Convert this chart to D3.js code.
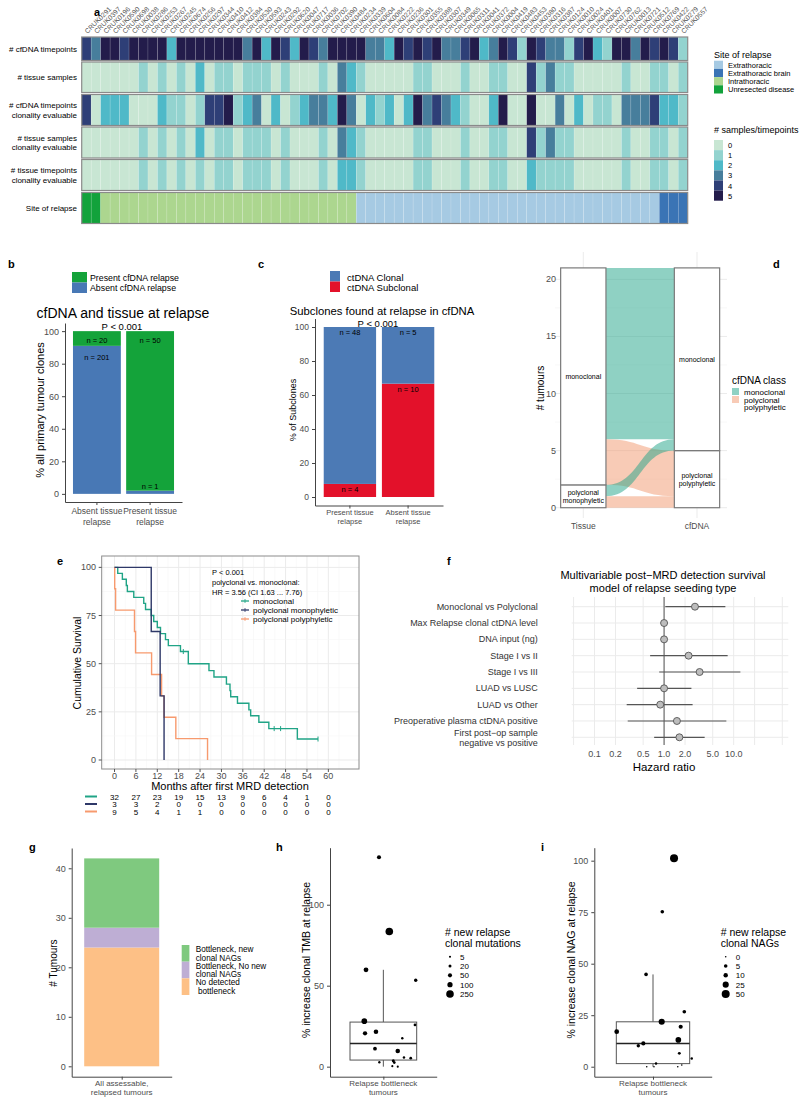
<!DOCTYPE html>
<html><head><meta charset="utf-8">
<script src="https://cdn.jsdelivr.net/npm/d3@7"></script>
<style>body{margin:0;background:#fff}svg{display:block}</style>
</head><body><svg id="c" width="800" height="1102"></svg>
<script>
// ================= DATA =================
// ---- panel a
const patients = ["CRUK0291","CRUK0397","CRUK0196","CRUK0590","CRUK0698","CRUK0038","CRUK0286","CRUK0253","CRUK0267","CRUK0245","CRUK0674","CRUK0256","CRUK0297","CRUK0344","CRUK0410","CRUK0412","CRUK0384","CRUK0530","CRUK0593","CRUK0243","CRUK0292","CRUK0620","CRUK0047","CRUK0717","CRUK0036","CRUK0702","CRUK0390","CRUK0484","CRUK0234","CRUK0339","CRUK0604","CRUK0084","CRUK0222","CRUK0236","CRUK0301","CRUK0355","CRUK0388","CRUK0307","CRUK0349","CRUK0065","CRUK0311","CRUK0041","CRUK0372","CRUK0004","CRUK0419","CRUK0483","CRUK0453","CRUK0380","CRUK0316","CRUK0387","CRUK0124","CRUK0010","CRUK0024","CRUK0401","CRUK0007","CRUK0730","CRUK0762","CRUK0013","CRUK0721","CRUK0512","CRUK0769","CRUK0422","CRUK0279","CRUK0557"];
const siteLevels = ["Extrathoracic","Extrathoracic brain","Intrathoracic","Unresected disease"];
const siteOfRelapse = [].concat(
  Array(2).fill("Unresected disease"), Array(27).fill("Intrathoracic"),
  Array(32).fill("Extrathoracic"), Array(3).fill("Extrathoracic brain"));
const cfdnaTimepoints = [4,3,5,5,4,5,5,5,5,2,5,5,5,5,5,5,5,3,5,2,5,4,2,5,4,3,5,5,5,5,3,3,2,5,4,5,4,5,3,3,4,5,2,3,5,4,1,5,4,3,3,1,4,5,2,1,5,5,3,5,4,5,4,1];
const tissueSamples = [0,0,0,0,0,0,1,0,1,0,1,0,2,0,1,1,0,1,1,1,0,1,0,0,0,1,0,3,2,1,0,0,0,0,0,1,1,0,0,0,1,0,0,1,1,0,0,4,1,3,1,1,0,0,0,0,0,1,0,0,1,1,0,1];
const cfdnaClonalEval = [4,0,2,2,2,0,0,0,2,1,1,0,1,4,4,5,1,2,3,0,2,0,1,2,3,3,2,5,3,0,2,1,2,0,2,5,3,4,3,2,1,0,0,2,5,0,0,5,0,0,3,0,2,0,1,1,0,3,3,3,4,2,2,1];
const tissueSamplesClonalEval = [0,0,0,0,0,0,1,0,1,0,1,0,2,0,1,1,0,1,1,1,0,1,0,0,0,1,0,3,2,1,0,0,0,0,0,1,1,0,0,0,1,0,0,1,1,0,0,4,1,3,1,1,0,0,0,0,0,1,0,0,1,1,0,1];
const tissueTimepointsClonalEval = [0,0,0,0,0,0,1,0,1,0,1,0,1,0,1,1,0,1,1,1,0,1,0,0,0,1,0,2,2,1,0,0,0,0,0,1,1,0,0,0,1,0,0,1,1,0,0,2,1,1,1,1,0,0,0,0,0,1,0,0,1,1,0,1];
const sampleLevels = [0,1,2,3,4,5];

// ---- panel b
const bCats = ["Absent tissue relapse","Present tissue relapse"];
const bPresentCfDNA = [20, 50];
const bAbsentCfDNA = [201, 1];
// ---- panel c
const cCats = ["Present tissue relapse","Absent tissue relapse"];
const cClonal = [48, 5];
const cSubclonal = [4, 10];
// ---- panel d
const dAxes = ["Tissue","cfDNA"];
const dTissueStrata = ["polyclonal monophyletic","monoclonal"];
const dCfdnaStrata = ["polyclonal polyphyletic","monoclonal"];
const dFlowFrom = ["monoclonal","monoclonal","polyclonal monophyletic","polyclonal monophyletic"];
const dFlowTo = ["monoclonal","polyclonal polyphyletic","monoclonal","polyclonal polyphyletic"];
const dFlowN = [15, 4, 1, 1];
// ---- panel e
const kmMonoTime = [0,0.9,2.2,3.3,3.6,5.4,8.2,8.7,10.3,11.0,12.0,12.9,14.3,15.1,18.5,20.7,26.5,27.9,31.4,32.4,32.6,34.5,37.7,38.2,40.5,43.3,51.3,57.1];
const kmMonoSurv = [100,96.9,93.8,90.6,87.5,84.4,81.3,78.1,75.0,71.9,68.8,65.6,62.5,59.4,56.3,50.0,46.4,43.1,39.4,36.0,32.8,29.5,26.0,23.0,19.6,16.3,10.9,10.9];
const kmMonoCensor = [19.3, 44.8, 46.6, 57.1];
const kmPolyMonoTime = [0,10.3,12.8,13.9];
const kmPolyMonoSurv = [100,66.7,33.3,0];
const kmPolyPolyTime = [0,0.05,0.3,5.6,5.9,10.4,13.2,13.9,17.2,26.1];
const kmPolyPolySurv = [100,88.9,77.8,66.7,55.6,44.4,33.3,22.2,11.1,0];
const riskTimes = [0,6,12,18,24,30,36,42,48,54,60];
const riskMono = [32,27,23,19,15,13,9,6,4,1,0];
const riskPolyMono = [3,3,2,0,0,0,0,0,0,0,0];
const riskPolyPoly = [9,5,4,1,1,0,0,0,0,0,0];
const kmXTicks = [0,6,12,18,24,30,36,42,48,54,60];
const kmYTicks = [0,25,50,75,100];
// ---- panel f
const fLabels = ["Monoclonal vs Polyclonal","Max Relapse clonal ctDNA level","DNA input (ng)","Stage I vs II","Stage I vs III","LUAD vs LUSC","LUAD vs Other","Preoperative plasma ctDNA positive","First post\u2212op sample\nnegative vs positive"];
const fHR = [2.78,1.0,1.0,2.25,3.24,1.0,0.88,1.53,1.66];
const fLo = [1.04,0.98,0.98,0.63,0.85,0.41,0.29,0.30,0.72];
const fHi = [7.6,1.02,1.02,8.2,12.5,2.47,2.57,7.85,3.83];
const fTicks = [0.1,0.2,0.5,1.0,2.0,5.0,10.0];
// ---- panel g
const gCats = ["No detected\n bottleneck","Bottleneck, No new\nclonal NAGs","Bottleneck, new\nclonal NAGs"];
const gCounts = [24, 4, 14];
// ---- panel h
const hX = [0.951,1.067,0.805,1.364,0.786,0.794,0.917,1.356,1.213,0.906,1.162,1.112,1.123,1.232,1.308,0.955,1.101,1.162];
const hY = [129.3,83.5,59.8,53.4,28.1,20.6,21.6,25.8,17.5,11.1,9.7,3.7,2.5,5.6,5.2,2.7,0.3,0];
const hNew = [50,250,80,30,120,60,70,15,10,40,70,20,15,10,15,8,5,5];
const hLegend = [5,20,50,100,250];
// ---- panel i
const iX = [1.215,1.095,0.929,1.320,1.089,1.283,0.629,1.259,0.901,0.850,1.269,1.396,1.031,0.936,1.010,1.253,1.294];
const iY = [101.2,75.2,44.8,26.7,21.8,19.4,17,13,11.3,10.2,6.5,4,1.5,0,0,0,0.8];
const iNew = [50,5,5,5,25,8,12,20,8,4,2,1,1,0,0,0,0];
const iLegend = [0,5,10,25,50];

// ================= DRAWING =================
const F = '"Liberation Sans", Arial, Helvetica, sans-serif';
const svg = d3.select("#c").style("font-family", F);
svg.append("rect").attr("width",800).attr("height",1102).attr("fill","#fff");
const GREY = "#4d4d4d";

function txt(g, x, y, s, o = {}) {
  const lines = String(s).split("\n");
  const lh = o.lh || (o.size || 10) * 1.1;
  const t = g.append("text").attr("x", x).attr("y", y)
    .attr("font-size", o.size || 10).attr("fill", o.fill || "#000")
    .attr("text-anchor", o.anchor || "start")
    .attr("dominant-baseline", o.base || "central");
  if (o.bold) t.attr("font-weight", "bold");
  if (o.rotate != null) t.attr("transform", `rotate(${o.rotate},${x},${y})`);
  const off = o.vcenter === false ? 0 : -(lines.length - 1) * lh / 2;
  lines.forEach((l, i) => t.append("tspan").attr("x", x).attr("y", y + off + i * lh).text(l));
  return t;
}
function styleAxis(g, size) {
  g.selectAll("text").attr("fill", GREY).attr("font-size", size).attr("font-family", F);
  g.selectAll("line").attr("stroke", "#444");
  g.select(".domain").attr("stroke", "#444");
}

// ---------- Panel a ----------
{
  const g = svg.append("g");
  txt(g, 94, 12, "a", {size: 11, bold: true});
  const x = d3.scaleBand().domain(patients).range([81.7, 687.7]);
  const sampleColor = d3.scaleOrdinal().domain(sampleLevels)
    .range(["#c8e6d3","#93d3cf","#4fb9c8","#477e9c","#2e3f77","#231c4b"]);
  const siteColor = d3.scaleOrdinal().domain(siteLevels)
    .range(["#a6cae3","#3a74b5","#acd68f","#12a23b"]);
  const rows = [
    {lab: "# cfDNA timepoints", vals: cfdnaTimepoints, col: sampleColor},
    {lab: "# tissue samples", vals: tissueSamples, col: sampleColor},
    {lab: "# cfDNA timepoints\nclonality evaluable", vals: cfdnaClonalEval, col: sampleColor},
    {lab: "# tissue samples\nclonality evaluable", vals: tissueSamplesClonalEval, col: sampleColor},
    {lab: "# tissue timepoints\nclonality evaluable", vals: tissueTimepointsClonalEval, col: sampleColor},
    {lab: "Site of relapse", vals: siteOfRelapse, col: siteColor}
  ];
  const tops = [37, 62, 94.5, 127, 159.5, 192.5];
  const hs = [23.5, 30.5, 31, 31, 31, 31];
  rows.forEach((r, ri) => {
    g.selectAll(null).data(r.vals).enter().append("rect")
      .attr("x", (d, i) => x(patients[i])).attr("y", tops[ri])
      .attr("width", x.bandwidth()).attr("height", hs[ri])
      .attr("fill", d => r.col(d))
      .attr("stroke", "#fff").attr("stroke-opacity", 0.25).attr("stroke-width", 0.5);
    g.append("rect").attr("x", x.range()[0]).attr("y", tops[ri])
      .attr("width", x.range()[1] - x.range()[0]).attr("height", hs[ri])
      .attr("fill", "none").attr("stroke", "#8a8a8a").attr("stroke-width", 1.2);
    txt(g, 77, tops[ri] + hs[ri] / 2, r.lab, {size: 8, anchor: "end", lh: 9.5});
  });
  // column labels
  patients.forEach(p => {
    const cx = x(p) + x.bandwidth() / 2 + 1, cy = 34;
    g.append("text").attr("x", cx).attr("y", cy).text(p)
      .attr("font-size", 6.8).attr("fill", "#555")
      .attr("transform", `rotate(-45,${cx},${cy})`);
  });
  // legends
  txt(g, 714, 55, "Site of relapse", {size: 9});
  const ly = d3.scaleBand().domain(siteLevels).range([60.7, 93.5]);
  siteLevels.forEach(s => {
    g.append("rect").attr("x", 714).attr("y", ly(s)).attr("width", 9).attr("height", ly.bandwidth())
      .attr("fill", siteColor(s));
    txt(g, 728, ly(s) + ly.bandwidth() / 2, s, {size: 7.5});
  });
  txt(g, 714, 130, "# samples/timepoints", {size: 9});
  const ly2 = d3.scaleBand().domain(sampleLevels).range([140, 200.7]);
  sampleLevels.forEach(s => {
    g.append("rect").attr("x", 714).attr("y", ly2(s)).attr("width", 9).attr("height", ly2.bandwidth())
      .attr("fill", sampleColor(s));
    txt(g, 728, ly2(s) + ly2.bandwidth() / 2, s, {size: 7.5});
  });
}

// ---------- Panel b ----------
{
  const g = svg.append("g");
  txt(g, 8, 264, "b", {size: 11, bold: true});
  const green = "#14a33a", blue = "#4878b5";
  g.append("rect").attr("x", 72).attr("y", 272).attr("width", 15).attr("height", 10.5).attr("fill", green);
  g.append("rect").attr("x", 72).attr("y", 282.5).attr("width", 15).attr("height", 10.5).attr("fill", blue);
  txt(g, 90, 277.5, "Present cfDNA relapse", {size: 8.8});
  txt(g, 90, 288, "Absent cfDNA relapse", {size: 8.8});
  txt(g, 123, 313, "cfDNA and tissue at relapse", {size: 14, anchor: "middle"});
  txt(g, 122, 326, "P < 0.001", {size: 9.5, anchor: "middle"});
  const x = d3.scaleBand().domain(bCats).range([65, 182]).paddingInner(0.1).paddingOuter(0.15);
  const y = d3.scaleLinear().domain([-5, 105]).range([502, 323]);
  bCats.forEach((c, i) => {
    const tot = bPresentCfDNA[i] + bAbsentCfDNA[i];
    const pAbs = bAbsentCfDNA[i] / tot * 100;
    g.append("rect").attr("x", x(c)).attr("width", x.bandwidth()).attr("y", y(pAbs)).attr("height", y(0) - y(pAbs)).attr("fill", blue);
    g.append("rect").attr("x", x(c)).attr("width", x.bandwidth()).attr("y", y(100)).attr("height", y(pAbs) - y(100)).attr("fill", green);
    const cx = x(c) + x.bandwidth() / 2;
    txt(g, cx, y(100) + 9, "n = " + bPresentCfDNA[i], {size: 7.5, anchor: "middle"});
    txt(g, cx, i === 1 ? y(pAbs) - 5 : y(pAbs) + 11, "n = " + bAbsentCfDNA[i], {size: 7.5, anchor: "middle"});
  });
  const ya = g.append("g").attr("transform", "translate(65,0)")
    .call(d3.axisLeft(y).tickValues([0, 20, 40, 60, 80, 100]).tickSize(3).tickSizeOuter(0));
  styleAxis(ya, 9);
  const xa = g.append("g").attr("transform", "translate(0,502)")
    .call(d3.axisBottom(x).tickSize(3).tickSizeOuter(0).tickFormat(""));
  styleAxis(xa, 9);
  bCats.forEach(c => txt(g, x(c) + x.bandwidth() / 2, 516, c.replace(" relapse", "\nrelapse"), {size: 8.5, anchor: "middle", fill: GREY, lh: 11}));
  txt(g, 40, 410, "% all primary tumour clones", {size: 11, anchor: "middle", rotate: -90});
}

// ---------- Panel c ----------
{
  const g = svg.append("g");
  txt(g, 258, 264, "c", {size: 11, bold: true});
  const blue = "#4c7ab5", red = "#e3112a";
  g.append("rect").attr("x", 330).attr("y", 271).attr("width", 10).attr("height", 10.5).attr("fill", blue);
  g.append("rect").attr("x", 330).attr("y", 281.5).attr("width", 10).attr("height", 10.5).attr("fill", red);
  txt(g, 347, 276.5, "ctDNA Clonal", {size: 9.5});
  txt(g, 347, 287, "ctDNA Subclonal", {size: 9.5});
  txt(g, 382, 311, "Subclones found at relapse in cfDNA", {size: 11.3, anchor: "middle"});
  txt(g, 378, 323, "P < 0.001", {size: 9.5, anchor: "middle"});
  const x = d3.scaleBand().domain(cCats).range([315, 443]).paddingInner(0.1).paddingOuter(0.15);
  const y = d3.scaleLinear().domain([-5, 105]).range([505.5, 318.5]);
  cCats.forEach((c, i) => {
    const tot = cClonal[i] + cSubclonal[i];
    const pSub = cSubclonal[i] / tot * 100;
    g.append("rect").attr("x", x(c)).attr("width", x.bandwidth()).attr("y", y(pSub)).attr("height", y(0) - y(pSub)).attr("fill", red);
    g.append("rect").attr("x", x(c)).attr("width", x.bandwidth()).attr("y", y(100)).attr("height", y(pSub) - y(100)).attr("fill", blue);
    const cx = x(c) + x.bandwidth() / 2;
    txt(g, cx, y(100) + 5, "n = " + cClonal[i], {size: 7.5, anchor: "middle"});
    txt(g, cx, y(pSub) + 5, "n = " + cSubclonal[i], {size: 7.5, anchor: "middle"});
  });
  const ya = g.append("g").attr("transform", "translate(315,0)")
    .call(d3.axisLeft(y).tickValues([0, 20, 40, 60, 80, 100]).tickSize(3).tickSizeOuter(0));
  styleAxis(ya, 8.5);
  const xa = g.append("g").attr("transform", "translate(0,505.5)")
    .call(d3.axisBottom(x).tickSize(3).tickSizeOuter(0).tickFormat(""));
  styleAxis(xa, 8);
  cCats.forEach(c => txt(g, x(c) + x.bandwidth() / 2, 516, c.replace(" relapse", "\nrelapse"), {size: 7.5, anchor: "middle", fill: GREY, lh: 9}));
  txt(g, 293, 410, "% of Subclones", {size: 9, anchor: "middle", rotate: -90});
}

// ---------- Panel d ----------
{
  const g = svg.append("g");
  txt(g, 773, 264, "d", {size: 11, bold: true});
  const x = d3.scalePoint().domain(dAxes).range([583.3, 697]);
  const y = d3.scaleLinear().domain([0, 21]).range([507.7, 267.9]);
  const bw = 45.3;
  const clsColor = d3.scaleOrdinal().domain(["monoclonal", "polyclonal polyphyletic"]).range(["#20a387", "#f1976d"]);
  [0, 5, 10, 15, 20].forEach(v => g.append("line").attr("x1", 555).attr("x2", 727).attr("y1", y(v)).attr("y2", y(v)).attr("stroke", "#ebebeb").attr("stroke-width", 1));
  [2.5, 7.5, 12.5, 17.5].forEach(v => g.append("line").attr("x1", 555).attr("x2", 727).attr("y1", y(v)).attr("y2", y(v)).attr("stroke", "#f3f3f3").attr("stroke-width", 0.6));
  dAxes.forEach(a => g.append("line").attr("x1", x(a)).attr("x2", x(a)).attr("y1", 252).attr("y2", 518).attr("stroke", "#ebebeb"));
  const flows = dFlowN.map((n, i) => ({from: dFlowFrom[i], to: dFlowTo[i], n}));
  const tissueTot = s => d3.sum(flows.filter(f => f.from === s), f => f.n);
  const cfTot = s => d3.sum(flows.filter(f => f.to === s), f => f.n);
  const tStart = {}, cStart = {};
  let acc = 0; dTissueStrata.forEach(s => { tStart[s] = acc; acc += tissueTot(s); });
  acc = 0; dCfdnaStrata.forEach(s => { cStart[s] = acc; acc += cfTot(s); });
  const toRank = s => dCfdnaStrata.indexOf(s), fromRank = s => dTissueStrata.indexOf(s);
  dTissueStrata.forEach(s => {
    let a = tStart[s];
    flows.filter(f => f.from === s).sort((p, q) => toRank(p.to) - toRank(q.to)).forEach(f => { f.y0 = a; a += f.n; });
  });
  dCfdnaStrata.forEach(s => {
    let a = cStart[s];
    flows.filter(f => f.to === s).sort((p, q) => fromRank(p.from) - fromRank(q.from)).forEach(f => { f.y1 = a; a += f.n; });
  });
  const xl = x("Tissue") + bw / 2, xr = x("cfDNA") - bw / 2, xm = (xl + xr) / 2;
  flows.forEach(f => {
    const a0 = y(f.y0 + f.n), a1 = y(f.y0), b0 = y(f.y1 + f.n), b1 = y(f.y1);
    const p = `M${xl},${a0}C${xm},${a0} ${xm},${b0} ${xr},${b0}L${xr},${b1}C${xm},${b1} ${xm},${a1} ${xl},${a1}Z`;
    g.append("path").attr("d", p).attr("fill", clsColor(f.to)).attr("fill-opacity", 0.5);
  });
  const drawStrata = (axis, strata, start, tot) => strata.forEach(s => {
    const y0 = start[s], n = tot(s);
    g.append("rect").attr("x", x(axis) - bw / 2).attr("width", bw).attr("y", y(y0 + n)).attr("height", y(y0) - y(y0 + n))
      .attr("fill", "#fff").attr("stroke", "#7a7a7a").attr("stroke-width", 1.2);
    const lab = s.replace(" ", "\n");
    txt(g, x(axis), y(y0 + n / 2), lab, {size: 7, anchor: "middle", lh: 8});
  });
  drawStrata("Tissue", dTissueStrata, tStart, tissueTot);
  drawStrata("cfDNA", dCfdnaStrata, cStart, cfTot);
  [0, 5, 10, 15, 20].forEach(v => txt(g, 556, y(v), v, {size: 9, anchor: "end", fill: GREY}));
  dAxes.forEach(a => txt(g, x(a), 526, a, {size: 8.5, anchor: "middle", fill: GREY}));
  txt(g, 540, 388, "# tumours", {size: 10, anchor: "middle", rotate: -90});
  txt(g, 732, 380, "cfDNA class", {size: 10});
  g.append("rect").attr("x", 732).attr("y", 388).attr("width", 7).attr("height", 7).attr("fill", clsColor("monoclonal")).attr("fill-opacity", 0.5);
  g.append("rect").attr("x", 732).attr("y", 396).attr("width", 7).attr("height", 7).attr("fill", clsColor("polyclonal polyphyletic")).attr("fill-opacity", 0.5);
  txt(g, 744, 392, "monoclonal", {size: 8});
  txt(g, 744, 403.5, "polyclonal\npolyphyletic", {size: 8, lh: 7.5});
}

// ---------- Panel e ----------
{
  const g = svg.append("g");
  txt(g, 57, 561, "e", {size: 11, bold: true});
  const x = d3.scaleLinear().domain([-3.6, 68.6]).range([101.7, 359]);
  const y = d3.scaleLinear().domain([-4.67, 105.9]).range([769, 556]);
  kmXTicks.forEach(t => g.append("line").attr("x1", x(t)).attr("x2", x(t)).attr("y1", 556).attr("y2", 769).attr("stroke", "#ebebeb"));
  kmXTicks.concat([66]).forEach(t => g.append("line").attr("x1", x(t - 3)).attr("x2", x(t - 3)).attr("y1", 556).attr("y2", 769).attr("stroke", "#f5f5f5").attr("stroke-width", 0.6));
  kmYTicks.forEach(t => g.append("line").attr("x1", 101.7).attr("x2", 359).attr("y1", y(t)).attr("y2", y(t)).attr("stroke", "#ebebeb"));
  [12.5, 37.5, 62.5, 87.5].forEach(t => g.append("line").attr("x1", 101.7).attr("x2", 359).attr("y1", y(t)).attr("y2", y(t)).attr("stroke", "#f5f5f5").attr("stroke-width", 0.6));
  const cMono = "#20a486", cPM = "#2e3868", cPP = "#f79a6e";
  const line = d3.line().x(d => x(d[0])).y(d => y(d[1])).curve(d3.curveStepAfter);
  const curve = (T, S, c) => g.append("path").attr("d", line(T.map((t, i) => [t, S[i]]))).attr("fill", "none").attr("stroke", c).attr("stroke-width", 1.4);
  curve(kmMonoTime, kmMonoSurv, cMono);
  curve(kmPolyPolyTime, kmPolyPolySurv, cPP);
  curve(kmPolyMonoTime, kmPolyMonoSurv, cPM);
  const survAt = t => { let s = 100; kmMonoTime.forEach((tt, i) => { if (tt <= t) s = kmMonoSurv[i]; }); return s; };
  kmMonoCensor.forEach(t => g.append("line").attr("x1", x(t)).attr("x2", x(t)).attr("y1", y(survAt(t)) - 2.5).attr("y2", y(survAt(t)) + 2.5).attr("stroke", cMono).attr("stroke-width", 1));
  g.append("rect").attr("x", 101.7).attr("y", 556).attr("width", 257.3).attr("height", 213).attr("fill", "none").attr("stroke", "#8c8c8c").attr("stroke-width", 1);
  kmYTicks.forEach(t => {
    g.append("line").attr("x1", 98.7).attr("x2", 101.7).attr("y1", y(t)).attr("y2", y(t)).attr("stroke", "#555");
    txt(g, 96, y(t), t, {size: 9, anchor: "end", fill: GREY});
  });
  kmXTicks.forEach(t => {
    g.append("line").attr("x1", x(t)).attr("x2", x(t)).attr("y1", 769).attr("y2", 772).attr("stroke", "#555");
    txt(g, x(t), 776, t, {size: 9, anchor: "middle", fill: GREY});
  });
  txt(g, 230, 786, "Months after first MRD detection", {size: 11, anchor: "middle"});
  txt(g, 77, 663, "Cumulative Survival", {size: 10.5, anchor: "middle", rotate: -90});
  txt(g, 212, 571.5, "P < 0.001", {size: 7.5});
  txt(g, 212, 581.5, "polyclonal vs. monoclonal:", {size: 7.5});
  txt(g, 212, 591.5, "HR = 3.56 (CI 1.63 ... 7.76)", {size: 7.5});
  [["monoclonal", cMono, 601], ["polyclonal monophyletic", cPM, 610], ["polyclonal polyphyletic", cPP, 619]].forEach(([l, c, yy]) => {
    g.append("line").attr("x1", 241).attr("x2", 249).attr("y1", yy).attr("y2", yy).attr("stroke", c).attr("stroke-width", 1.3);
    g.append("line").attr("x1", 245).attr("x2", 245).attr("y1", yy - 2).attr("y2", yy + 2).attr("stroke", c).attr("stroke-width", 0.8);
    txt(g, 253, yy, l, {size: 8});
  });
  [[riskMono, cMono, 796.5], [riskPolyMono, cPM, 804], [riskPolyPoly, cPP, 811.5]].forEach(([vals, c, yy]) => {
    g.append("line").attr("x1", 85).attr("x2", 97).attr("y1", yy).attr("y2", yy).attr("stroke", c).attr("stroke-width", 2);
    vals.forEach((v, i) => txt(g, x(riskTimes[i]), yy, v, {size: 8, anchor: "middle"}));
  });
}

// ---------- Panel f ----------
{
  const g = svg.append("g");
  txt(g, 447, 561, "f", {size: 11, bold: true});
  txt(g, 663, 575, "Multivariable post\u2212MRD detection survival", {size: 11, anchor: "middle"});
  txt(g, 663, 587.5, "model of relapse seeding type", {size: 11, anchor: "middle"});
  const x = d3.scaleLog().domain([0.047, 61]).range([571.7, 788.3]);
  const y = d3.scalePoint().domain(fLabels).range([606.7, 737.3]);
  [0.05, 0.1, 0.2, 0.5, 1, 2, 5, 10, 20, 50].forEach(t => g.append("line").attr("x1", x(t)).attr("x2", x(t)).attr("y1", 597).attr("y2", 745).attr("stroke", "#ebebeb"));
  fLabels.forEach(l => g.append("line").attr("x1", 571.7).attr("x2", 788.3).attr("y1", y(l)).attr("y2", y(l)).attr("stroke", "#ebebeb"));
  g.append("line").attr("x1", x(1)).attr("x2", x(1)).attr("y1", 597).attr("y2", 745).attr("stroke", "#555").attr("stroke-width", 1);
  fLabels.forEach((l, i) => {
    g.append("line").attr("x1", x(fLo[i])).attr("x2", x(fHi[i])).attr("y1", y(l)).attr("y2", y(l)).attr("stroke", "#555").attr("stroke-width", 1.2);
    g.append("circle").attr("cx", x(fHR[i])).attr("cy", y(l)).attr("r", 3.5).attr("fill", "#bdbdbd").attr("stroke", "#555").attr("stroke-width", 0.9);
    txt(g, 537.7, y(l) + (l.includes("\n") ? 1 : 0), l, {size: 9, anchor: "end", fill: "#333", lh: 10});
  });
  fTicks.forEach(t => txt(g, x(t), 754, t.toFixed(1), {size: 9, anchor: "middle", fill: GREY}));
  txt(g, 664, 766.5, "Hazard ratio", {size: 11.5, anchor: "middle"});
}

// ---------- Panel g ----------
{
  const g = svg.append("g");
  txt(g, 29, 847, "g", {size: 11, bold: true});
  const x = d3.scaleLinear().domain([0.4, 1.6]).range([71.7, 171.7]);
  const y = d3.scaleLinear().domain([-2.1, 44.1]).range([1076.7, 848]);
  const col = d3.scaleOrdinal().domain(gCats).range(["#fdc086", "#beaed4", "#7fc97f"]);
  let acc = 0;
  gCats.forEach((c, i) => {
    g.append("rect").attr("x", x(0.55)).attr("width", x(1.45) - x(0.55)).attr("y", y(acc + gCounts[i])).attr("height", y(acc) - y(acc + gCounts[i])).attr("fill", col(c));
    acc += gCounts[i];
  });
  const ya = g.append("g").attr("transform", "translate(71.7,0)").call(d3.axisLeft(y).tickValues([0, 10, 20, 30, 40]).tickSize(3).tickSizeOuter(0));
  styleAxis(ya, 9);
  const xa = g.append("g").attr("transform", "translate(0,1076.7)").call(d3.axisBottom(x).tickValues([1]).tickSize(3).tickSizeOuter(0).tickFormat(""));
  styleAxis(xa, 8);
  txt(g, x(1), 1087.5, "All assessable,\nrelapsed tumours", {size: 8, anchor: "middle", fill: GREY, lh: 9});
  txt(g, 53, 963, "# Tumours", {size: 10, anchor: "middle", rotate: -90});
  const ly = d3.scaleBand().domain(gCats.slice().reverse()).range([945, 995]);
  gCats.slice().reverse().forEach(c => {
    g.append("rect").attr("x", 181.7).attr("y", ly(c)).attr("width", 7.7).attr("height", ly.bandwidth()).attr("fill", col(c));
    txt(g, 195.7, ly(c) + ly.bandwidth() / 2, c, {size: 8.2, lh: 8.7});
  });
}

// ---------- Panels h & i ----------
function boxPanel(o) {
  const g = svg.append("g");
  txt(g, o.letterX, 847, o.letter, {size: 11, bold: true});
  const x = d3.scaleLinear().domain([0.4, 1.6]).range([o.x0, o.x1]);
  const y = d3.scaleLinear().domain(o.yDom).range([1076.7, 847.7]);
  const r = d3.scaleSqrt().domain([0, o.sizeMax]).range(o.rRange);
  const s = o.ys.slice().sort(d3.ascending);
  const q1 = d3.quantile(s, 0.25), med = d3.quantile(s, 0.5), q3 = d3.quantile(s, 0.75);
  const iqr = q3 - q1;
  const hiW = d3.max(s.filter(v => v <= q3 + 1.5 * iqr)), loW = d3.min(s.filter(v => v >= q1 - 1.5 * iqr));
  const st = "#555";
  g.append("line").attr("x1", x(1)).attr("x2", x(1)).attr("y1", y(q3)).attr("y2", y(hiW)).attr("stroke", st);
  g.append("line").attr("x1", x(1)).attr("x2", x(1)).attr("y1", y(q1)).attr("y2", y(loW)).attr("stroke", st);
  g.append("rect").attr("x", x(0.625)).attr("width", x(1.375) - x(0.625)).attr("y", y(q3)).attr("height", y(q1) - y(q3)).attr("fill", "#fff").attr("stroke", st).attr("stroke-width", 1);
  g.append("line").attr("x1", x(0.625)).attr("x2", x(1.375)).attr("y1", y(med)).attr("y2", y(med)).attr("stroke", "#222").attr("stroke-width", 1.6);
  o.ys.forEach((v, i) => g.append("circle").attr("cx", x(o.xs[i])).attr("cy", y(v)).attr("r", r(o.sz[i])).attr("fill", "#000"));
  const ya = g.append("g").attr("transform", `translate(${o.x0},0)`).call(d3.axisLeft(y).tickValues(o.yTicks).tickSize(3).tickSizeOuter(0));
  styleAxis(ya, 9);
  const xa = g.append("g").attr("transform", "translate(0,1076.7)").call(d3.axisBottom(x).tickValues([1]).tickSize(3).tickSizeOuter(0).tickFormat(""));
  styleAxis(xa, 8);
  txt(g, x(1), 1087.5, "Relapse bottleneck\ntumours", {size: 8, anchor: "middle", fill: GREY, lh: 9});
  txt(g, o.ylabX, 960, o.ylab, {size: 10.5, anchor: "middle", rotate: -90});
  txt(g, o.legX, 937.5, o.legTitle, {size: 10.5, lh: 11.5});
  const ly = d3.scalePoint().domain(o.legVals).range([956.7, 994]);
  o.legVals.forEach(v => {
    g.append("circle").attr("cx", o.legX + 5).attr("cy", ly(v)).attr("r", r(v)).attr("fill", "#000");
    txt(g, o.legX + 15, ly(v), v, {size: 8});
  });
}
boxPanel({letter: "h", letterX: 276, x0: 330, x1: 436.7, yDom: [-6.2, 135.2], yTicks: [0, 50, 100],
  xs: hX, ys: hY, sz: hNew, sizeMax: 250, rRange: [0.6, 3.8], ylabX: 306, ylab: "% increase clonal TMB at relapse",
  legX: 445, legTitle: "# new relapse\nclonal mutations", legVals: hLegend});
boxPanel({letter: "i", letterX: 541, x0: 594.3, x1: 711.7, yDom: [-4.85, 106.3], yTicks: [0, 25, 50, 75, 100],
  xs: iX, ys: iY, sz: iNew, sizeMax: 50, rRange: [0.8, 4], ylabX: 571, ylab: "% increase clonal NAG at relapse",
  legX: 720.7, legTitle: "# new relapse\nclonal NAGs", legVals: iLegend});
</script></body></html>
